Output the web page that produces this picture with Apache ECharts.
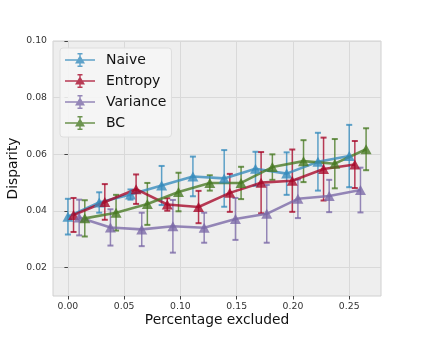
<!DOCTYPE html>
<html>
<head>
<meta charset="utf-8">
<script src="https://cdn.jsdelivr.net/npm/echarts@6/dist/echarts.min.js"></script>
<style>
  html, body { margin: 0; padding: 0; background: #fff; }
  #chart { width: 423px; height: 338px; }
</style>
</head>
<body>
<div id="chart"></div>
<script>
// Data
const xTicks = [0, 0.05, 0.1, 0.15, 0.2, 0.25];
const yTicks = [0.02, 0.04, 0.06, 0.08, 0.1];

const naiveX = [0, 0.0278, 0.0556, 0.0833, 0.1111, 0.1389, 0.1667, 0.1944, 0.2222, 0.25];
const entropyX = [0.005, 0.0328, 0.0606, 0.0883, 0.1161, 0.1439, 0.1717, 0.1994, 0.2272, 0.255];
const varianceX = [0.01, 0.0378, 0.0656, 0.0933, 0.1211, 0.1489, 0.1767, 0.2044, 0.2322, 0.26];
const bcX = [0.015, 0.0428, 0.0706, 0.0983, 0.1261, 0.1539, 0.1817, 0.2094, 0.2372, 0.265];

const naiveMean = [0.038, 0.043, 0.0458, 0.049, 0.0522, 0.0515, 0.0549, 0.0532, 0.0574, 0.0594];
const naiveErr = [0.0063, 0.0036, 0.0018, 0.0069, 0.007, 0.01, 0.006, 0.0075, 0.0102, 0.011];

const entropyMean = [0.0386, 0.0432, 0.0477, 0.0423, 0.0414, 0.0464, 0.05, 0.0507, 0.0548, 0.0564];
const entropyErr = [0.006, 0.0063, 0.0052, 0.0022, 0.0057, 0.0067, 0.0108, 0.011, 0.0111, 0.0083];

const varianceMean = [0.0377, 0.0342, 0.0335, 0.0346, 0.0341, 0.0372, 0.039, 0.0443, 0.0453, 0.0474];
const varianceErr = [0.0063, 0.0064, 0.0059, 0.0093, 0.0053, 0.0074, 0.0102, 0.0068, 0.0057, 0.0079];

const bcMean = [0.0374, 0.0394, 0.0425, 0.0467, 0.0499, 0.0499, 0.0555, 0.0576, 0.0567, 0.0618];
const bcErr = [0.0064, 0.0063, 0.0074, 0.0068, 0.0027, 0.0057, 0.0045, 0.0074, 0.0087, 0.0074];

const methods = [
  { name: "Naive", x: naiveX, mean: naiveMean, err: naiveErr, color: "rgba(52, 138, 189, 0.78)" },
  { name: "Entropy", x: entropyX, mean: entropyMean, err: entropyErr, color: "rgba(166, 6, 40, 0.78)" },
  { name: "Variance", x: varianceX, mean: varianceMean, err: varianceErr, color: "rgba(122, 104, 166, 0.78)" },
  { name: "BC", x: bcX, mean: bcMean, err: bcErr, color: "rgba(70, 120, 33, 0.78)" },
];

const font = "DejaVu Sans";
// legend handle: line + triangle + capped error bar
const legendIcon =
  "path://M0 6.2L30 6.2L30 7.8L0 7.8Z" +
  "M14.3 0.6L15.7 0.6L15.7 13.4L14.3 13.4Z" +
  "M12.5 0L17.5 0L17.5 1.6L12.5 1.6Z" +
  "M12.5 12.4L17.5 12.4L17.5 14L12.5 14Z" +
  "M15 2.2L20 10.5L10 10.5Z";

const series = [];
methods.forEach((m) => {
  // Error bars
  series.push({
    name: m.name,
    type: "custom",
    color: m.color,
    itemStyle: { color: m.color },
    data: m.x.map((x, i) => [x, m.mean[i] - m.err[i], m.mean[i] + m.err[i]]),
    encode: { x: 0, y: [1, 2] },
    silent: true,
    renderItem: (params, api) => {
      const x = api.value(0);
      const lo = api.coord([x, api.value(1)]);
      const hi = api.coord([x, api.value(2)]);
      const w = 3;
      return {
        type: "group",
        children: [
          { type: "line", shape: { x1: lo[0], y1: lo[1], x2: hi[0], y2: hi[1] }, style: { stroke: m.color, lineWidth: 1.5 } },
          { type: "line", shape: { x1: lo[0] - w, y1: lo[1], x2: lo[0] + w, y2: lo[1] }, style: { stroke: m.color, lineWidth: 2 } },
          { type: "line", shape: { x1: hi[0] - w, y1: hi[1], x2: hi[0] + w, y2: hi[1] }, style: { stroke: m.color, lineWidth: 2 } },
        ],
      };
    },
  });
  // Mean line with triangle markers
  series.push({
    name: m.name,
    type: "line",
    data: m.x.map((x, i) => [x, m.mean[i]]),
    symbol: "triangle",
    symbolSize: [11, 10],
    showSymbol: true,
    color: m.color,
    lineStyle: { color: m.color, width: 2.6 },
    itemStyle: { color: m.color },
    emphasis: { disabled: true },
  });
});

const chart = echarts.init(document.getElementById("chart"));
chart.setOption({
  animation: false,
  backgroundColor: "#ffffff",
  textStyle: { fontFamily: font },
  grid: {
    left: 53,
    right: 42,
    top: 41,
    bottom: 42,
    outerBoundsMode: "none",
    containLabel: false,
    show: true,
    backgroundColor: "#eeeeee",
    borderColor: "#d0d0d0",
    borderWidth: 1,
  },
  legend: {
    left: 60,
    top: 48,
    orient: "vertical",
    data: methods.map((m) => ({ name: m.name, icon: legendIcon, itemStyle: { color: m.color } })),
    itemWidth: 30,
    itemHeight: 14,
    itemGap: 7,
    padding: [5, 5, 7, 5],
    backgroundColor: "rgba(245, 245, 245, 0.9)",
    borderColor: "#dedede",
    borderWidth: 1,
    borderRadius: 3,
    textStyle: { fontFamily: font, fontSize: 14, color: "#111", padding: [0, 0, 0, 6] },
  },
  xAxis: {
    type: "value",
    min: -0.01325,
    max: 0.27825,
    name: "Percentage excluded",
    nameLocation: "middle",
    nameGap: 17,
    nameMoveOverlap: false,
    nameTextStyle: { fontFamily: font, fontSize: 13.8, color: "#111" },
    axisLine: { show: false },
    axisTick: { show: true, customValues: xTicks, length: 3.5, lineStyle: { color: "#444" } },
    axisLabel: {
      customValues: xTicks,
      formatter: (v) => v.toFixed(2),
      fontFamily: font,
      fontSize: 9.3,
      color: "#333",
      margin: 6,
    },
    splitLine: { show: true, lineStyle: { color: "#d9d9d9", width: 1 } },
  },
  yAxis: {
    type: "value",
    min: 0.01,
    max: 0.1,
    name: "Disparity",
    nameLocation: "middle",
    nameGap: 33,
    nameMoveOverlap: false,
    nameTextStyle: { fontFamily: font, fontSize: 13.8, color: "#111" },
    axisLine: { show: false },
    axisTick: { show: true, customValues: yTicks, length: 3.5, lineStyle: { color: "#444" } },
    axisLabel: {
      customValues: yTicks,
      formatter: (v) => v.toFixed(2),
      fontFamily: font,
      fontSize: 9.3,
      color: "#333",
      margin: 6,
    },
    splitLine: { show: true, lineStyle: { color: "#d9d9d9", width: 1 } },
  },
  series: series,
});
</script>
</body>
</html>
